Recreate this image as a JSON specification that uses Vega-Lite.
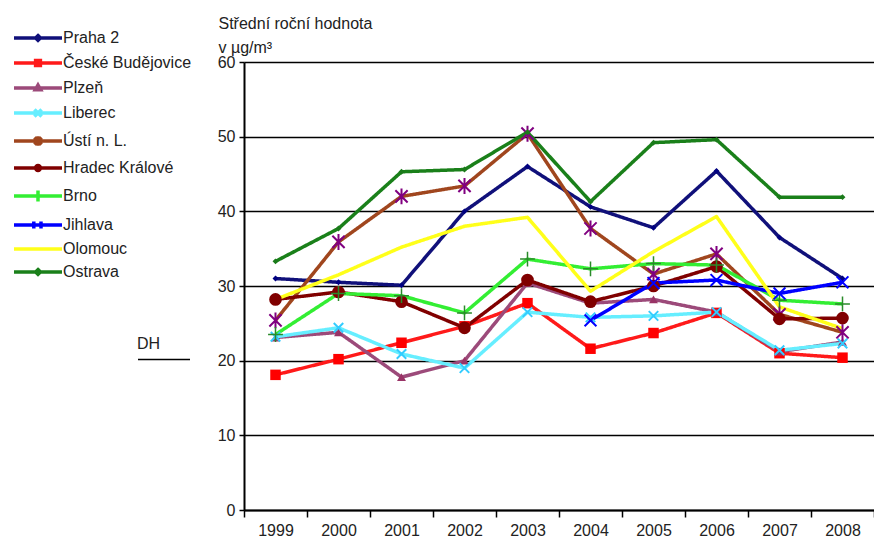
{
  "$schema": "https://vega.github.io/schema/vega-lite/v6.json",
  "autosize": "none",
  "width": 630,
  "height": 448,
  "padding": {"left": 244, "top": 62, "right": 0, "bottom": 32},
  "background": "white",
  "config": {
    "font": "Liberation Sans",
    "view": {"stroke": null},
    "axis": {"labelFont": "Liberation Sans", "titleFont": "Liberation Sans", "labelColor": "#222", "titleColor": "#222"},
    "legend": {"labelFont": "Liberation Sans", "titleFont": "Liberation Sans"}
  },
  "data": {
    "values": [
      {"city": "Praha 2", "year": "1999", "value": 31.0},
      {"city": "Praha 2", "year": "2000", "value": 30.5},
      {"city": "Praha 2", "year": "2001", "value": 30.1},
      {"city": "Praha 2", "year": "2002", "value": 40.0},
      {"city": "Praha 2", "year": "2003", "value": 46.0},
      {"city": "Praha 2", "year": "2004", "value": 40.6},
      {"city": "Praha 2", "year": "2005", "value": 37.8},
      {"city": "Praha 2", "year": "2006", "value": 45.4},
      {"city": "Praha 2", "year": "2007", "value": 36.5},
      {"city": "Praha 2", "year": "2008", "value": 31.0},
      {"city": "České Budějovice", "year": "1999", "value": 18.1},
      {"city": "České Budějovice", "year": "2000", "value": 20.2},
      {"city": "České Budějovice", "year": "2001", "value": 22.4},
      {"city": "České Budějovice", "year": "2002", "value": 24.6},
      {"city": "České Budějovice", "year": "2003", "value": 27.7},
      {"city": "České Budějovice", "year": "2004", "value": 21.6},
      {"city": "České Budějovice", "year": "2005", "value": 23.7},
      {"city": "České Budějovice", "year": "2006", "value": 26.4},
      {"city": "České Budějovice", "year": "2007", "value": 21.0},
      {"city": "České Budějovice", "year": "2008", "value": 20.4},
      {"city": "Plzeň", "year": "1999", "value": 23.1},
      {"city": "Plzeň", "year": "2000", "value": 23.8},
      {"city": "Plzeň", "year": "2001", "value": 17.8},
      {"city": "Plzeň", "year": "2002", "value": 20.0},
      {"city": "Plzeň", "year": "2003", "value": 30.4},
      {"city": "Plzeň", "year": "2004", "value": 27.7},
      {"city": "Plzeň", "year": "2005", "value": 28.2},
      {"city": "Plzeň", "year": "2006", "value": 26.5},
      {"city": "Plzeň", "year": "2007", "value": 21.2},
      {"city": "Plzeň", "year": "2008", "value": 22.5},
      {"city": "Liberec", "year": "1999", "value": 23.2},
      {"city": "Liberec", "year": "2000", "value": 24.4},
      {"city": "Liberec", "year": "2001", "value": 20.9},
      {"city": "Liberec", "year": "2002", "value": 19.0},
      {"city": "Liberec", "year": "2003", "value": 26.5},
      {"city": "Liberec", "year": "2004", "value": 25.8},
      {"city": "Liberec", "year": "2005", "value": 26.0},
      {"city": "Liberec", "year": "2006", "value": 26.5},
      {"city": "Liberec", "year": "2007", "value": 21.4},
      {"city": "Liberec", "year": "2008", "value": 22.3},
      {"city": "Ústí n. L.", "year": "1999", "value": 25.4},
      {"city": "Ústí n. L.", "year": "2000", "value": 35.9},
      {"city": "Ústí n. L.", "year": "2001", "value": 42.0},
      {"city": "Ústí n. L.", "year": "2002", "value": 43.4},
      {"city": "Ústí n. L.", "year": "2003", "value": 50.4},
      {"city": "Ústí n. L.", "year": "2004", "value": 37.7},
      {"city": "Ústí n. L.", "year": "2005", "value": 31.6},
      {"city": "Ústí n. L.", "year": "2006", "value": 34.3},
      {"city": "Ústí n. L.", "year": "2007", "value": 26.2},
      {"city": "Ústí n. L.", "year": "2008", "value": 23.8},
      {"city": "Hradec Králové", "year": "1999", "value": 28.2},
      {"city": "Hradec Králové", "year": "2000", "value": 29.2},
      {"city": "Hradec Králové", "year": "2001", "value": 27.9},
      {"city": "Hradec Králové", "year": "2002", "value": 24.4},
      {"city": "Hradec Králové", "year": "2003", "value": 30.8},
      {"city": "Hradec Králové", "year": "2004", "value": 27.9},
      {"city": "Hradec Králové", "year": "2005", "value": 30.0},
      {"city": "Hradec Králové", "year": "2006", "value": 32.6},
      {"city": "Hradec Králové", "year": "2007", "value": 25.6},
      {"city": "Hradec Králové", "year": "2008", "value": 25.7},
      {"city": "Brno", "year": "1999", "value": 23.5},
      {"city": "Brno", "year": "2000", "value": 29.0},
      {"city": "Brno", "year": "2001", "value": 28.7},
      {"city": "Brno", "year": "2002", "value": 26.4},
      {"city": "Brno", "year": "2003", "value": 33.6},
      {"city": "Brno", "year": "2004", "value": 32.3},
      {"city": "Brno", "year": "2005", "value": 33.0},
      {"city": "Brno", "year": "2006", "value": 32.8},
      {"city": "Brno", "year": "2007", "value": 28.1},
      {"city": "Brno", "year": "2008", "value": 27.6},
      {"city": "Jihlava", "year": "2004", "value": 25.4},
      {"city": "Jihlava", "year": "2005", "value": 30.4},
      {"city": "Jihlava", "year": "2006", "value": 30.8},
      {"city": "Jihlava", "year": "2007", "value": 29.0},
      {"city": "Jihlava", "year": "2008", "value": 30.5},
      {"city": "Olomouc", "year": "1999", "value": 28.2},
      {"city": "Olomouc", "year": "2000", "value": 31.5},
      {"city": "Olomouc", "year": "2001", "value": 35.2},
      {"city": "Olomouc", "year": "2002", "value": 38.0},
      {"city": "Olomouc", "year": "2003", "value": 39.2},
      {"city": "Olomouc", "year": "2004", "value": 29.3},
      {"city": "Olomouc", "year": "2005", "value": 34.6},
      {"city": "Olomouc", "year": "2006", "value": 39.3},
      {"city": "Olomouc", "year": "2007", "value": 27.2},
      {"city": "Olomouc", "year": "2008", "value": 24.3},
      {"city": "Ostrava", "year": "1999", "value": 33.3},
      {"city": "Ostrava", "year": "2000", "value": 37.7},
      {"city": "Ostrava", "year": "2001", "value": 45.3},
      {"city": "Ostrava", "year": "2002", "value": 45.6},
      {"city": "Ostrava", "year": "2003", "value": 50.6},
      {"city": "Ostrava", "year": "2004", "value": 41.3},
      {"city": "Ostrava", "year": "2005", "value": 49.2},
      {"city": "Ostrava", "year": "2006", "value": 49.6},
      {"city": "Ostrava", "year": "2007", "value": 41.9},
      {"city": "Ostrava", "year": "2008", "value": 41.9}
    ]
  },
  "encoding": {
    "x": {
      "field": "year", "type": "ordinal",
      "scale": {"type": "band", "paddingInner": 0, "paddingOuter": 0},
      "axis": {
        "title": null, "labelAngle": 0, "domainColor": "#000", "domainWidth": 2,
        "tickColor": "#000", "tickWidth": 1.5, "tickSize": 7, "tickBand": "extent",
        "labelFontSize": 16, "labelPadding": 5, "grid": false
      }
    },
    "y": {
      "field": "value", "type": "quantitative",
      "scale": {"domain": [0, 60], "nice": false},
      "axis": {
        "values": [0, 10, 20, 30, 40, 50, 60],
        "title": ["Střední roční  hodnota", "v µg/m³"],
        "titleAngle": 0, "titleAlign": "left", "titleBaseline": "alphabetic",
        "titleX": -26, "titleY": -34, "titleFontSize": 16, "titleFontWeight": "normal",
        "titleLineHeight": 24,
        "grid": true, "gridColor": "#000", "gridWidth": 1.5, "gridOpacity": 1,
        "domainColor": "#000", "domainWidth": 2, "tickColor": "#000", "tickWidth": 1.5,
        "tickSize": 5, "labelFontSize": 16, "labelPadding": 4
      }
    }
  },
  "layer": [
    {
      "mark": {"type": "line", "strokeJoin": "round"},
      "encoding": {
        "stroke": {
          "field": "city", "type": "nominal",
          "scale": {
            "domain": ["Praha 2", "České Budějovice", "Plzeň", "Liberec", "Ústí n. L.", "Hradec Králové", "Brno", "Jihlava", "Olomouc", "Ostrava"],
            "range": ["#10107a", "#ff1a1a", "#9c4a7a", "#66eeff", "#a0461e", "#800000", "#33ee33", "#0000ff", "#ffff1a", "#1a801a"]
          }
        },
        "strokeWidth": {
          "field": "city", "type": "nominal",
          "scale": {
            "domain": ["Praha 2", "České Budějovice", "Plzeň", "Liberec", "Ústí n. L.", "Hradec Králové", "Brno", "Jihlava", "Olomouc", "Ostrava"],
            "range": [3.5, 3.5, 3.5, 2, 3.5, 3.5, 3.5, 3.5, 4, 3.5]
          }
        },
        "strokeDash": {
          "datum": "DH",
          "scale": {"domain": ["DH"], "range": [[1, 0]]},
          "legend": {
            "orient": "none", "legendX": -107, "legendY": 274, "title": "DH",
            "titleFontSize": 16, "titleFontWeight": "normal", "titleColor": "#222",
            "labelExpr": "''", "symbolType": "M-1,0H7", "symbolSize": 169,
            "symbolStrokeColor": "#000", "symbolStrokeWidth": 1.5, "padding": 0, "titlePadding": 0
          }
        }
      }
    },
    {
      "mark": {"type": "point", "filled": true, "strokeWidth": 4, "size": 144, "opacity": 0},
      "encoding": {
        "color": {
          "field": "city", "type": "nominal",
          "scale": {
            "domain": ["Praha 2", "České Budějovice", "Plzeň", "Liberec", "Ústí n. L.", "Hradec Králové", "Brno", "Jihlava", "Olomouc", "Ostrava"],
            "range": ["#10107a", "#ff1a1a", "#9c4a7a", "#66eeff", "#a0461e", "#800000", "#33ee33", "#0000ff", "#ffff1a", "#1a801a"]
          },
          "legend": {
            "orient": "none", "legendX": -232, "legendY": -32, "title": null,
            "symbolSize": 144, "symbolStrokeWidth": 4, "symbolOpacity": 1,
            "labelFontSize": 16, "labelColor": "#222", "labelOffset": 35,
            "rowPadding": 5, "padding": 0
          }
        },
        "shape": {
          "field": "city", "type": "nominal",
          "scale": {
            "domain": ["Praha 2", "České Budějovice", "Plzeň", "Liberec", "Ústí n. L.", "Hradec Králové", "Brno", "Jihlava", "Olomouc", "Ostrava"],
            "range": [
              "M-1,0H7M3,-0.4L3.4,0L3,0.4L2.6,0Z",
              "M-1,0H7M2.6,-0.4H3.4V0.4H2.6Z",
              "M-1,0H7M3,-0.5L3.45,0.3H2.55Z",
              "M-1,0H7M2.4,-0.6L3.6,0.6M2.4,0.6L3.6,-0.6",
              "M-1,0H7M2.4,-0.6L3.6,0.6M2.4,0.6L3.6,-0.6M3,-0.8V0.8",
              "M-1,0H7M2.6,0A0.4,0.4,0,1,0,3.4,0A0.4,0.4,0,1,0,2.6,0Z",
              "M-1,0H7M3,-0.9V0.9",
              "M-1,0H7M2.3,-0.6V0.6M3.5,-0.6V0.6",
              "M-1,0H7",
              "M-1,0H7M3,-0.4L3.4,0L3,0.4L2.6,0Z"
            ]
          }
        }
      }
    },
    {
      "transform": [{"filter": "datum.city === 'Praha 2'"}],
      "mark": {"type": "point", "shape": "diamond", "filled": true, "color": "#000080", "size": 35, "opacity": 1}
    },
    {
      "transform": [{"filter": "datum.city === 'České Budějovice'"}],
      "mark": {"type": "point", "shape": "square", "filled": true, "color": "#ff0000", "size": 110, "opacity": 1}
    },
    {
      "transform": [{"filter": "datum.city === 'Plzeň'"}],
      "mark": {"type": "point", "shape": "triangle-up", "filled": true, "color": "#993366", "size": 80, "opacity": 1}
    },
    {
      "transform": [{"filter": "datum.city === 'Liberec'"}],
      "mark": {"type": "point", "shape": "M-1,-1L1,1M-1,1L1,-1", "filled": false, "color": "#33ccff", "size": 90, "strokeWidth": 2, "opacity": 1}
    },
    {
      "transform": [{"filter": "datum.city === 'Ústí n. L.'"}],
      "mark": {"type": "point", "shape": "M-1,-1L1,1M-1,1L1,-1M0,-1.3L0,1.3", "filled": false, "color": "#800080", "size": 150, "strokeWidth": 2, "opacity": 1}
    },
    {
      "transform": [{"filter": "datum.city === 'Hradec Králové'"}],
      "mark": {"type": "point", "shape": "circle", "filled": true, "color": "#800000", "size": 160, "opacity": 1}
    },
    {
      "transform": [{"filter": "datum.city === 'Brno'"}],
      "mark": {"type": "point", "shape": "M-1,0L1,0M0,-1L0,1", "filled": false, "color": "#2a8a2a", "size": 220, "strokeWidth": 1.5, "opacity": 1}
    },
    {
      "transform": [{"filter": "datum.city === 'Jihlava'"}],
      "mark": {"type": "point", "shape": "M-1,-1L1,1M-1,1L1,-1", "filled": false, "color": "#0000ff", "size": 140, "strokeWidth": 2, "opacity": 1}
    },
    {
      "transform": [{"filter": "datum.city === 'Ostrava'"}],
      "mark": {"type": "point", "shape": "diamond", "filled": true, "color": "#1a7a1a", "size": 35, "opacity": 1}
    }
  ]
}
